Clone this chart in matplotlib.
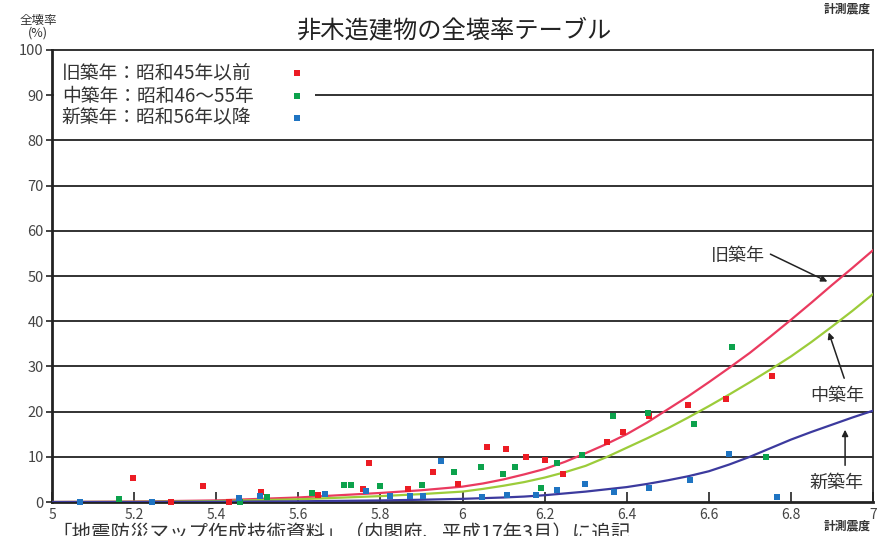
import matplotlib
matplotlib.use("Agg")
import matplotlib.pyplot as plt
from matplotlib.patches import Rectangle

plt.rcParams['font.family'] = ['Noto Sans CJK JP', 'DejaVu Sans']

# fragility curves
curve_x = [5.0, 5.2, 5.4, 5.6, 5.8, 5.9, 6.0, 6.05, 6.1, 6.15, 6.2, 6.25, 6.3, 6.35, 6.4, 6.45,
           6.5, 6.55, 6.6, 6.65, 6.7, 6.75, 6.8, 6.85, 6.9, 6.95, 7.0]
old_curve = [0, 0.1, 0.35, 1.0, 2.0, 2.6, 3.4, 4.1, 5.0, 6.1, 7.3, 8.9, 10.8, 12.8, 15.0, 17.6,
             20.5, 23.4, 26.5, 29.7, 33.0, 36.6, 40.3, 44.1, 48.0, 51.8, 55.7]
mid_curve = [0, 0.05, 0.2, 0.6, 1.3, 1.75, 2.3, 2.9, 3.6, 4.4, 5.4, 6.6, 8.0, 9.9, 12.0, 14.1,
             16.3, 18.7, 21.2, 23.8, 26.5, 29.3, 32.2, 35.4, 38.8, 42.3, 46.0]
new_curve = [0, 0.0, 0.05, 0.15, 0.35, 0.5, 0.7, 0.85, 1.0, 1.2, 1.5, 1.9, 2.3, 2.8, 3.3, 4.0,
             4.8, 5.7, 6.8, 8.3, 10.0, 11.9, 13.8, 15.5, 17.1, 18.7, 20.2]

# observed points
old_x = [5.197, 5.368, 5.29, 5.43, 5.51, 5.648, 5.772, 5.758, 5.867, 5.928, 5.989,
         6.06, 6.106, 6.155, 6.2, 6.245, 6.352, 6.391, 6.454, 6.549, 6.642, 6.754]
old_y = [5.3, 3.5, 0.0, 0.0, 2.3, 1.5, 8.6, 2.9, 2.9, 6.6, 4.0,
         12.2, 11.7, 10.0, 9.3, 6.2, 13.3, 15.5, 19.0, 21.5, 22.8, 27.9]
mid_x = [5.163, 5.458, 5.524, 5.633, 5.712, 5.728, 5.80, 5.901, 5.979, 6.045, 6.099,
         6.128, 6.191, 6.23, 6.291, 6.367, 6.452, 6.657, 6.564, 6.739]
mid_y = [0.7, 0.0, 1.2, 2.0, 3.8, 3.8, 3.5, 3.8, 6.6, 7.7, 6.2,
         7.7, 3.1, 8.6, 10.4, 19.0, 19.7, 34.3, 17.3, 10.0]
new_x = [5.068, 5.244, 5.455, 5.507, 5.665, 5.765, 5.823, 5.872, 5.904, 5.948, 6.047,
         6.108, 6.179, 6.23, 6.298, 6.369, 6.454, 6.554, 6.649, 6.766]
new_y = [0.0, 0.0, 0.9, 1.3, 1.8, 2.4, 1.3, 1.3, 1.3, 9.1, 1.1,
         1.5, 1.5, 2.7, 4.0, 2.2, 3.1, 4.9, 10.6, 1.1]

legend_labels = ['旧築年：昭和45年以前', '中築年：昭和46～55年', '新築年：昭和56年以降']
xticks = [5, 5.2, 5.4, 5.6, 5.8, 6, 6.2, 6.4, 6.6, 6.8, 7]
xtick_labels = ['5', '5.2', '5.4', '5.6', '5.8', '6', '6.2', '6.4', '6.6', '6.8', '7']
yticks = list(range(0, 101, 10))

line_cols = ['#ea3a5f', '#9ccc3a', '#3c3a9e']
dot_cols = ['#ec1c24', '#0ca24c', '#1f74c2']

fig = plt.figure(figsize=(8.77, 5.36), dpi=100)
ax = fig.add_axes([52/877, 34/536, 821/877, 452/536])

# horizontal grid
for v in yticks[1:-1]:
    ax.axhline(v, color='#222222', lw=1.3, zorder=1)

ax.plot(curve_x, old_curve, color=line_cols[0], lw=1.6, zorder=3)
ax.plot(curve_x, mid_curve, color=line_cols[1], lw=1.6, zorder=3)
ax.plot(curve_x, new_curve, color=line_cols[2], lw=1.6, zorder=3)

ax.plot(old_x, old_y, 's', color=dot_cols[0], ms=4.3, mew=0, zorder=4, clip_on=False)
ax.plot(mid_x, mid_y, 's', color=dot_cols[1], ms=4.3, mew=0, zorder=4, clip_on=False)
ax.plot(new_x, new_y, 's', color=dot_cols[2], ms=4.3, mew=0, zorder=4, clip_on=False)

ax.set_xlim(5, 7)
ax.set_ylim(0, 100)
ax.set_xticks(xticks)
ax.set_xticklabels(xtick_labels)
ax.set_yticks(yticks)
ax.tick_params(axis='x', direction='in', length=7, width=1.2, color='#222222',
               labelsize=10, labelcolor='#444444', pad=4)
ax.tick_params(axis='y', direction='out', length=4, width=1.2, color='#222222',
               labelsize=10.5, labelcolor='#444444', pad=2)
for s in ['left', 'bottom']:
    ax.spines[s].set_linewidth(2)
    ax.spines[s].set_color('#222222')
for s in ['top', 'right']:
    ax.spines[s].set_linewidth(1.3)
    ax.spines[s].set_color('#222222')

# legend block (white backing hides the 90 line)
ax.add_patch(Rectangle((5.005, 82.5), 0.635, 16.5, facecolor='white', edgecolor='none', zorder=2))
for lab, col, yy in zip(legend_labels, dot_cols, [94.9, 89.8, 85.0]):
    ax.text(5.024, yy, lab, fontsize=13.5, color='#333333', va='center', ha='left', zorder=5)
    ax.plot([5.597], [yy], 's', color=col, ms=4.3, mew=0, zorder=5)

# curve annotations
arrow = dict(arrowstyle='-|>', color='#222222', lw=1.1, mutation_scale=9)
ax.text(6.671, 54.4, '旧築年', fontsize=13, color='#333333', ha='center', va='center')
ax.annotate('', xy=(6.895, 48.5), xytext=(6.744, 55.1), arrowprops=arrow)
ax.text(6.912, 23.5, '中築年', fontsize=13, color='#333333', ha='center', va='center')
ax.annotate('', xy=(6.890, 38.1), xytext=(6.932, 26.8), arrowprops=arrow)
ax.text(6.910, 4.2, '新築年', fontsize=13, color='#333333', ha='center', va='center')
ax.annotate('', xy=(6.932, 16.6), xytext=(6.932, 7.5), arrowprops=arrow)

fig.text(455/877, 1 - 30/536, '非木造建物の全壊率テーブル', fontsize=17.5,
         color='#222222', ha='center', va='center')
fig.text(38/877, 1 - 27/536, '全壊率\n(%)', fontsize=9, color='#333333',
         ha='center', va='center', linespacing=1.0)
fig.text(847/877, 1 - 526/536, '計測震度', fontsize=8.5, color='#333333',
         ha='center', va='center', weight='bold')
fig.text(847/877, 1 - 9/536, '計測震度', fontsize=8.5, color='#333333',
         ha='center', va='center', weight='bold')
# source note, cut by the lower edge as in the reference
fig.text(52/877, 1 - 523/536, '「地震防災マップ作成技術資料」（内閣府、平成17年3月）に追記',
         fontsize=14, color='#333333', ha='left', va='top')

fig.savefig('out.png', dpi=100)
